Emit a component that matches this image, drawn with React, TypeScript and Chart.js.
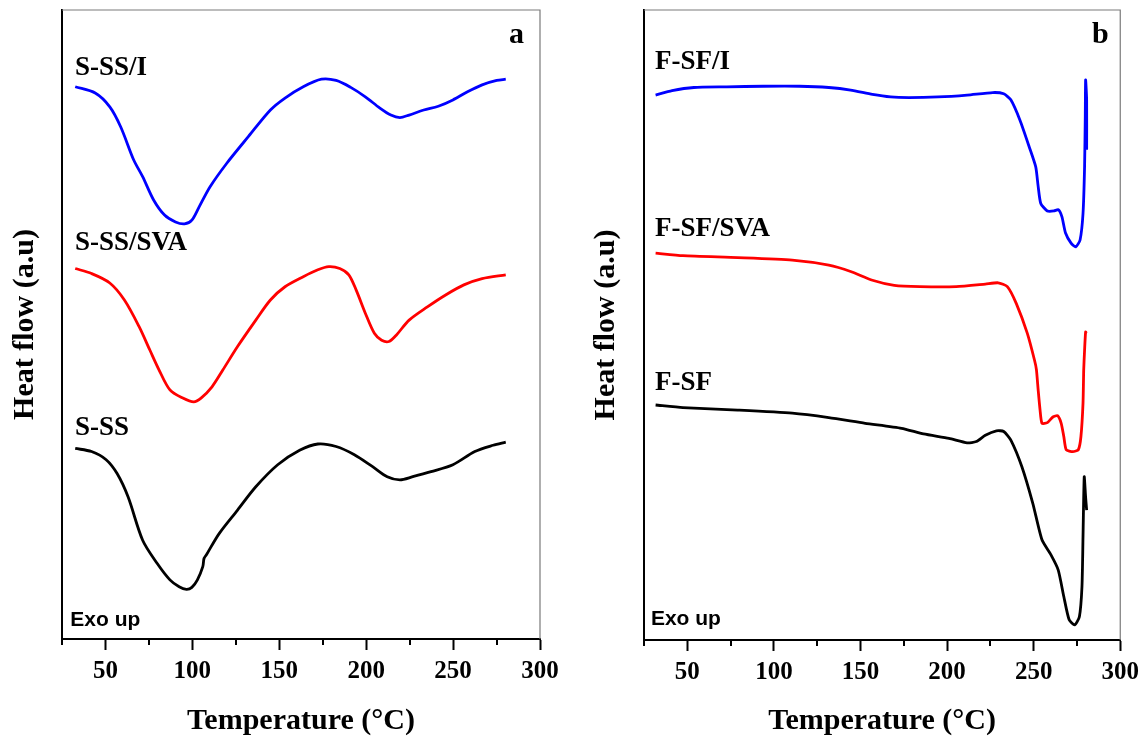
import React, { useEffect, useRef } from 'react';
import { Chart, registerables } from 'chart.js';

Chart.register(...registerables);

// ---------- axis ticks ----------
const tempTicks = [50, 100, 150, 200, 250, 300];
const minorTicks = [25, 75, 125, 175, 225, 275];

// ---------- panel a ----------
const ssiT = [32.6, 44.1, 52.5, 58.8, 66.2, 71.4, 77.7, 84.0, 90.3, 95.5, 99.7, 103.9, 110.2, 119.7, 132.3, 144.9, 153.3, 163.8, 174.3, 182.7, 191.1, 199.5, 207.9, 214.2, 219.4, 224.7, 233.1, 241.5, 249.9, 258.3, 266.7, 275.1, 280.3];
const ssiV = [87.8, 86.8, 84.6, 81.4, 76.2, 73.5, 69.8, 67.4, 66.3, 66.0, 66.6, 68.7, 71.9, 75.6, 79.9, 84.1, 86.0, 87.8, 89.0, 88.8, 87.7, 86.2, 84.4, 83.3, 82.9, 83.3, 84.1, 84.7, 85.7, 87.0, 88.1, 88.8, 89.0];

const sssvaT = [32.6, 42.0, 52.5, 60.9, 69.3, 75.6, 80.8, 87.1, 94.5, 100.8, 105.0, 111.3, 117.6, 126.0, 136.5, 144.9, 153.3, 163.8, 172.2, 178.5, 184.8, 190.0, 194.2, 199.5, 204.7, 208.9, 213.1, 217.3, 224.7, 235.2, 245.7, 256.2, 266.7, 280.3];
const sssvaV = [58.9, 58.1, 56.6, 53.9, 49.7, 45.9, 42.8, 39.6, 38.3, 37.7, 38.3, 40.1, 42.8, 46.5, 50.7, 53.9, 56.0, 57.6, 58.7, 59.2, 58.9, 57.9, 55.5, 51.8, 48.6, 47.5, 47.3, 48.3, 50.7, 52.8, 54.7, 56.3, 57.3, 57.9];

const ssT = [32.6, 42.0, 50.4, 56.7, 63.0, 71.4, 79.8, 87.1, 92.4, 96.6, 99.7, 102.9, 106.0, 106.7, 108.1, 115.5, 126.0, 136.5, 149.1, 161.7, 172.2, 182.7, 193.2, 203.7, 212.1, 219.4, 226.8, 237.3, 249.9, 262.5, 273.0, 280.3];
const ssV = [30.3, 29.8, 28.5, 26.3, 22.6, 15.7, 12.0, 9.4, 8.3, 7.9, 8.2, 9.4, 11.5, 12.8, 13.4, 16.8, 20.5, 24.2, 27.7, 30.0, 31.0, 30.6, 29.3, 27.4, 25.8, 25.3, 25.8, 26.6, 27.7, 29.8, 30.8, 31.3];

// ---------- panel b ----------
const fsfiT = [31.7, 41.2, 53.8, 72.8, 93.8, 114.8, 131.7, 144.3, 156.9, 167.4, 178.0, 194.8, 211.6, 226.4, 232.7, 236.9, 242.1, 247.4, 251.2, 252.6, 254.1, 257.9, 261.7, 264.2, 266.3, 268.4, 271.6, 274.3, 276.8, 278.5, 279.4, 279.8, 280.0, 280.6, 280.6];
const fsfiV = [86.5, 87.2, 87.7, 87.8, 87.9, 87.9, 87.7, 87.3, 86.6, 86.2, 86.1, 86.2, 86.5, 86.9, 86.7, 85.7, 82.5, 78.3, 75.1, 72.0, 69.3, 68.1, 68.1, 68.3, 67.2, 64.6, 63.0, 62.4, 63.5, 67.7, 75.1, 83.1, 88.9, 85.7, 77.8];

const fsfsvaT = [31.7, 47.5, 79.1, 110.6, 131.7, 144.3, 156.9, 169.5, 184.3, 205.3, 222.1, 229.5, 234.8, 240.0, 246.3, 250.5, 251.6, 252.6, 253.7, 254.8, 257.9, 261.1, 263.8, 265.9, 267.4, 268.8, 272.6, 275.8, 277.3, 278.5, 278.9, 279.4, 280.0, 280.4];
const fsfsvaV = [61.4, 61.0, 60.7, 60.3, 59.5, 58.5, 57.1, 56.3, 56.1, 56.1, 56.5, 56.7, 56.1, 53.4, 48.7, 44.4, 42.9, 39.7, 36.5, 34.4, 34.5, 35.4, 35.6, 34.4, 32.3, 30.2, 29.9, 30.2, 32.3, 37.6, 42.9, 46.0, 48.9, 48.7];

const fsfT = [31.7, 47.5, 79.1, 110.6, 131.7, 152.7, 173.7, 186.4, 201.1, 211.6, 216.9, 222.1, 228.5, 232.7, 236.9, 243.2, 249.5, 254.8, 260.0, 264.2, 267.4, 270.5, 273.7, 276.4, 277.9, 278.5, 279.2, 280.0, 280.6];
const fsfV = [37.3, 36.9, 36.5, 36.0, 35.3, 34.4, 33.6, 32.7, 32.0, 31.3, 31.5, 32.5, 33.2, 33.1, 31.7, 27.5, 21.7, 15.9, 13.5, 11.1, 6.9, 3.2, 2.4, 3.7, 8.5, 16.4, 25.9, 22.7, 20.6];

const SERIF = "'Liberation Serif', 'Times New Roman', serif";
const SANS = "'Liberation Sans', Arial, sans-serif";

type Label = { text: string; t: number; v: number; font: string; align: CanvasTextAlign };

const decorPlugin = {
  id: 'decor',
  afterDraw(chart: any, _args: any, opts: any) {
    const { ctx, chartArea: ca, scales } = chart;
    const x = scales.x;
    const y = scales.y;
    ctx.save();
    // top and right frame
    ctx.strokeStyle = '#7a7a7a';
    ctx.lineWidth = 1.2;
    ctx.beginPath();
    ctx.moveTo(ca.left, ca.top);
    ctx.lineTo(ca.right, ca.top);
    ctx.lineTo(ca.right, ca.bottom);
    ctx.stroke();
    // minor ticks
    ctx.strokeStyle = '#000';
    ctx.lineWidth = 2;
    minorTicks.forEach((t) => {
      const px = Math.round(x.getPixelForValue(t));
      ctx.beginPath();
      ctx.moveTo(px, ca.bottom);
      ctx.lineTo(px, ca.bottom + 6);
      ctx.stroke();
    });
    // text labels
    ctx.fillStyle = '#000';
    ctx.textBaseline = 'alphabetic';
    (opts.labels as Label[]).forEach((l) => {
      ctx.font = l.font;
      ctx.textAlign = l.align;
      ctx.fillText(l.text, x.getPixelForValue(l.t), y.getPixelForValue(l.v));
    });
    ctx.restore();
  },
};

type Series = { t: number[]; v: number[]; color: string };

function makeConfig(series: Series[], labels: Label[], yWidth: number, xHeight: number, padRight: number, yTitlePad: number, tension: number): any {
  return {
    type: 'line',
    data: {
      datasets: series.map((s) => ({
        data: s.t.map((t, i) => ({ x: t, y: s.v[i] })),
        borderColor: s.color,
        borderWidth: 2.8,
        pointRadius: 0,
        tension,
        fill: false,
      })),
    },
    options: {
      animation: false,
      responsive: false,
      events: [],
      layout: { padding: { left: 0, right: padRight, top: 10, bottom: 0 } },
      plugins: {
        legend: { display: false },
        tooltip: { enabled: false },
        decor: { labels },
      },
      scales: {
        x: {
          type: 'linear',
          min: 25,
          max: 300,
          afterBuildTicks: (scale: any) => {
            scale.ticks = tempTicks.map((v) => ({ value: v }));
          },
          afterFit: (scale: any) => {
            scale.height = xHeight;
          },
          grid: {
            display: true,
            drawOnChartArea: false,
            drawTicks: true,
            tickLength: 11,
            tickWidth: 2,
            tickColor: '#000',
          },
          border: { display: true, color: '#000', width: 2 },
          ticks: {
            color: '#000',
            font: { family: SERIF, size: 25, weight: 'bold' },
            padding: 7,
            maxRotation: 0,
            autoSkip: false,
          },
          title: {
            display: true,
            text: 'Temperature (°C)',
            color: '#000',
            font: { family: SERIF, size: 30, weight: 'bold' },
            padding: { top: 0, bottom: 0 },
          },
        },
        y: {
          type: 'linear',
          min: 0,
          max: 100,
          afterFit: (scale: any) => {
            scale.width = yWidth;
          },
          grid: { display: false },
          border: { display: true, color: '#000', width: 2 },
          ticks: { display: false },
          title: {
            display: true,
            text: 'Heat flow (a.u)',
            color: '#000',
            font: { family: SERIF, size: 30, weight: 'bold' },
            padding: { top: yTitlePad, bottom: 0 },
          },
        },
      },
    },
    plugins: [decorPlugin],
  };
}

const labelFont = `bold 27px ${SERIF}`;
const letterFont = `bold 30px ${SERIF}`;
const exoFont = `bold 21px ${SANS}`;

const labelsA: Label[] = [
  { text: 'S-SS/I', t: 32.5, v: 89.7, font: labelFont, align: 'left' },
  { text: 'S-SS/SVA', t: 32.5, v: 61.8, font: labelFont, align: 'left' },
  { text: 'S-SS', t: 32.5, v: 32.4, font: labelFont, align: 'left' },
  { text: 'a', t: 290.8, v: 94.8, font: letterFont, align: 'right' },
  { text: 'Exo up', t: 29.8, v: 2.0, font: exoFont, align: 'left' },
];

const labelsB: Label[] = [
  { text: 'F-SF/I', t: 31.4, v: 90.6, font: labelFont, align: 'left' },
  { text: 'F-SF/SVA', t: 31.4, v: 64.1, font: labelFont, align: 'left' },
  { text: 'F-SF', t: 31.4, v: 39.7, font: labelFont, align: 'left' },
  { text: 'b', t: 293.3, v: 94.7, font: letterFont, align: 'right' },
  { text: 'Exo up', t: 29.0, v: 2.4, font: exoFont, align: 'left' },
];

function Panel({ config, left }: { config: any; left: number }) {
  const ref = useRef<HTMLCanvasElement>(null);
  useEffect(() => {
    if (!ref.current) return;
    const chart = new Chart(ref.current, config);
    return () => chart.destroy();
  }, [config]);
  return (
    <canvas
      ref={ref}
      width={573}
      height={739}
      style={{ position: 'absolute', left, top: 0, width: 573, height: 739 }}
    />
  );
}

const configA = makeConfig(
  [
    { t: ssiT, v: ssiV, color: '#0000ff' },
    { t: sssvaT, v: sssvaV, color: '#ff0000' },
    { t: ssT, v: ssV, color: '#000000' },
  ],
  labelsA,
  62,
  100,
  33,
  7,
  0.3
);

const configB = makeConfig(
  [
    { t: fsfiT, v: fsfiV, color: '#0000ff' },
    { t: fsfsvaT, v: fsfsvaV, color: '#ff0000' },
    { t: fsfT, v: fsfV, color: '#000000' },
  ],
  labelsB,
  71,
  99,
  24,
  15,
  0.2
);

export default function App() {
  return (
    <div style={{ position: 'fixed', left: 0, top: 0, width: 1146, height: 739, background: '#fff' }}>
      <Panel config={configA} left={0} />
      <Panel config={configB} left={573} />
    </div>
  );
}
